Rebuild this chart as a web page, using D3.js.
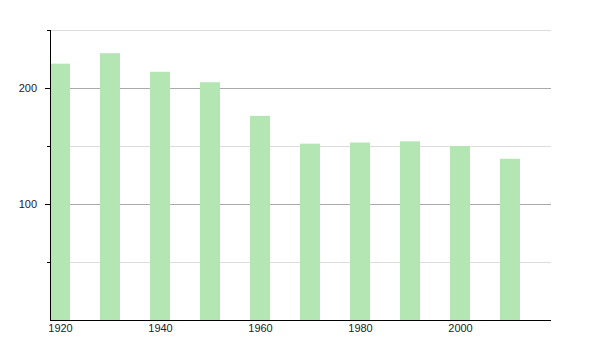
<!DOCTYPE html>
<html>
<head>
<meta charset="utf-8">
<script src="https://cdn.jsdelivr.net/npm/d3@7"></script>
<style>
  body { margin: 0; background: #fff; }
  text { font-family: "Liberation Sans", Arial, sans-serif; font-size: 11px; fill: #222; }
</style>
</head>
<body>
<div id="chart"></div>
<script>
const years = [1920, 1930, 1940, 1950, 1960, 1970, 1980, 1990, 2000, 2010]
const population = [221, 230, 214, 205, 176, 152, 153, 154, 150, 139]
const majorTicks = [100, 200]
const minorTicks = [50, 150, 250]
const yearTicks = [1920, 1940, 1960, 1980, 2000]

let W = 600, H = 350
let mLeft = 50, mRight = 551, mTop = 30, mBottom = 320
let barW = 20

let svg = d3.select('#chart').append('svg')
  .attr('width', W)
  .attr('height', H)

// year -> bar centre
let x = d3.scaleLinear().domain([1920, 2010]).range([60, 510])
let y = d3.scaleLinear().domain([0, 250]).range([mBottom, mTop])

// grid
svg.selectAll('.minor').data(minorTicks).enter().append('line')
  .attr('x1', mLeft).attr('x2', mRight)
  .attr('y1', d => y(d) + .5).attr('y2', d => y(d) + .5)
  .attr('stroke', '#ddd')
svg.selectAll('.major').data(majorTicks).enter().append('line')
  .attr('x1', mLeft).attr('x2', mRight)
  .attr('y1', d => y(d) + .5).attr('y2', d => y(d) + .5)
  .attr('stroke', '#aaa')

// bars
svg.selectAll('.bar').data(years).enter().append('rect')
  .attr('x', d => x(d) - barW / 2)
  .attr('y', (d, i) => y(population[i]))
  .attr('width', barW)
  .attr('height', (d, i) => mBottom - y(population[i]))
  .attr('fill', '#b3e6b3')

// y axis
let yAxis = svg.append('g').attr('transform', `translate(${mLeft},0)`)
yAxis.call(d3.axisLeft(y).tickValues(majorTicks).tickSize(5).tickPadding(8))
yAxis.select('.domain').remove()
yAxis.selectAll('.minor-tick').data(minorTicks).enter().append('line')
  .attr('x1', -3).attr('x2', 0)
  .attr('y1', d => y(d) + .5).attr('y2', d => y(d) + .5)
  .attr('stroke', '#000')
yAxis.append('line')
  .attr('x1', .5).attr('x2', .5)
  .attr('y1', mTop).attr('y2', mBottom + 1)
  .attr('stroke', '#000')

// x axis
let xAxis = svg.append('g').attr('transform', `translate(0,${mBottom})`)
xAxis.call(d3.axisBottom(x).tickValues(yearTicks).tickFormat(d3.format('d')).tickSize(0).tickPadding(4))
xAxis.select('.domain').remove()
xAxis.append('line')
  .attr('x1', mLeft).attr('x2', mRight)
  .attr('y1', .5).attr('y2', .5)
  .attr('stroke', '#000')

svg.selectAll('.tick text').style('font-size', '11px').attr('fill', '#222')
</script>
</body>
</html>
